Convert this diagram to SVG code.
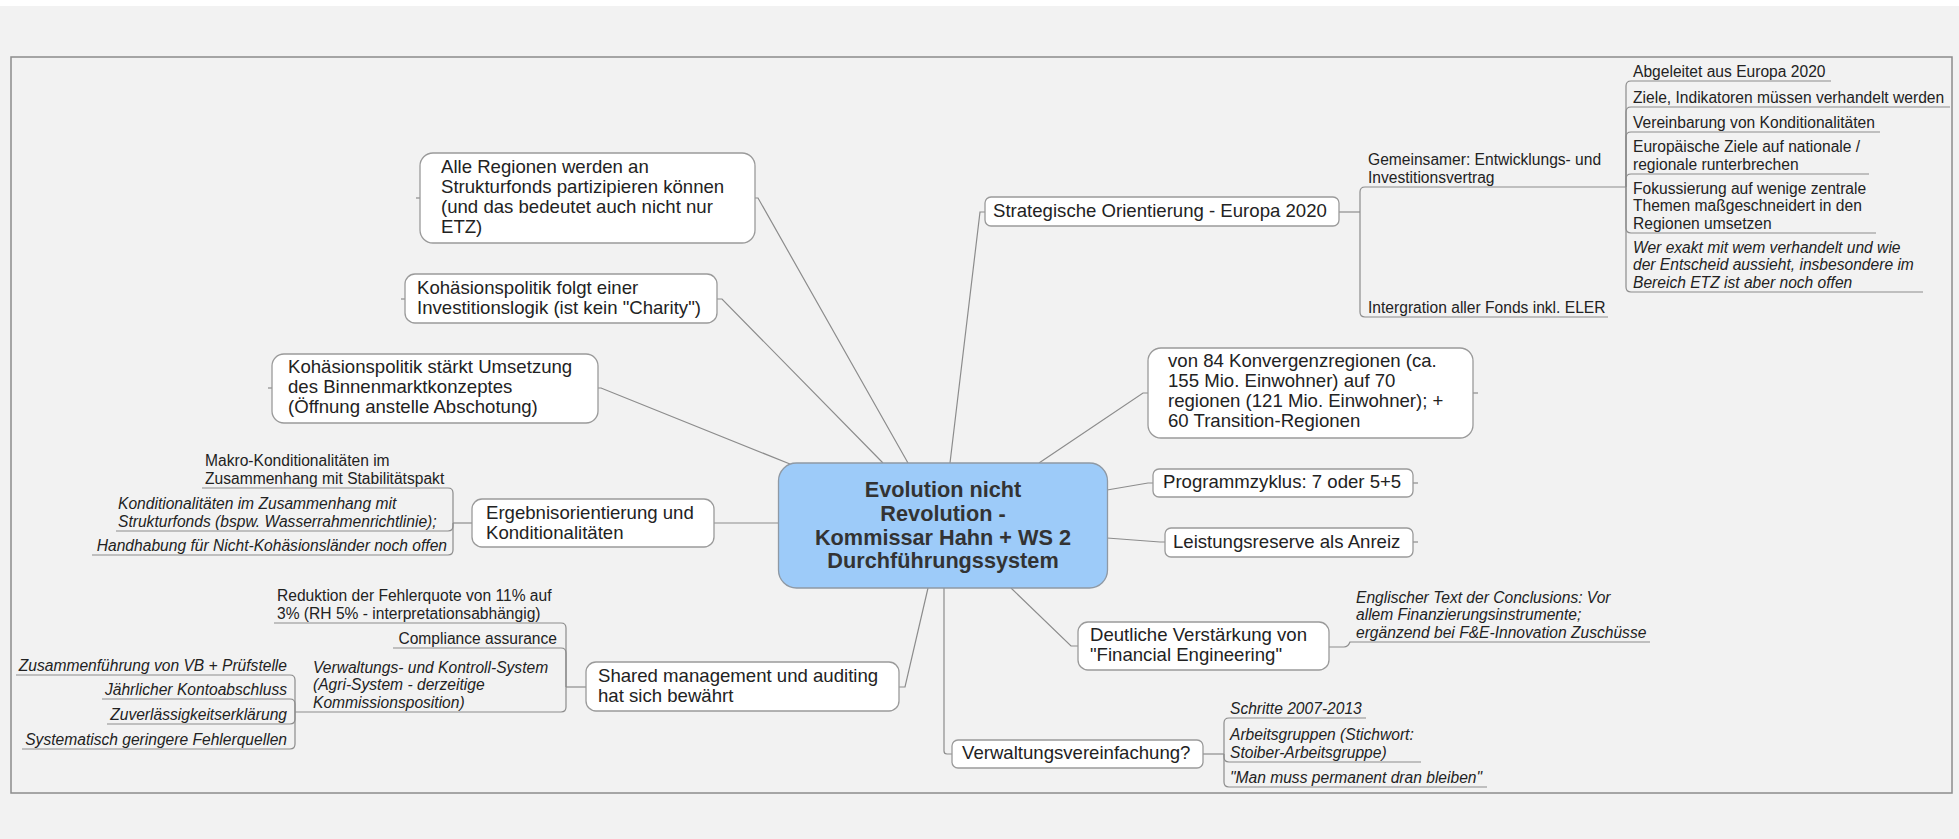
<svg xmlns="http://www.w3.org/2000/svg" width="1959" height="839" viewBox="0 0 1959 839">
<style>
.t{font-family:"Liberation Sans",Arial,sans-serif;font-size:18.6px;fill:#222}
.s{font-size:15.6px}
.i{font-style:italic}
.e{text-anchor:end}
.box{fill:#fff;stroke:#9a9a9a;stroke-width:1.3}
.cen{fill:#9dcbf9;stroke:#8f99a4;stroke-width:1.3}
.ct{font-family:"Liberation Sans",Arial,sans-serif;font-size:21.7px;font-weight:bold;fill:#333;text-anchor:middle}
#connectors path{fill:none;stroke:#8c8c8c;stroke-width:1.2}
</style>
<rect x="0" y="0" width="1959" height="839" fill="#f2f2f2"/>
<rect x="0" y="0" width="1959" height="6" fill="#fff"/>
<rect x="11" y="57" width="1941" height="736" fill="none" stroke="#8c8c8c" stroke-width="1.5"/>

<g id="connectors">
<path d="M755,198 H758 L908,463"/>
<path d="M717,299 H722 L883,463"/>
<path d="M598,388 H601 L790,464"/>
<path d="M714,523 H778"/>
<path d="M950,463 L980,212 H985"/>
<path d="M1039,463 L1143,393 H1148"/>
<path d="M1107,490 L1148,483 H1153"/>
<path d="M1107,538 L1160,542 H1165"/>
<path d="M1011,588 L1071,646 H1078"/>
<path d="M944,588 V751 Q944,754 947,754 H952"/>
<path d="M928,588 L905,687 H899"/>
<path d="M416,198 H420"/>
<path d="M401,299 H405"/>
<path d="M268,388 H272"/>
<path d="M1473,393 H1478"/>
<path d="M1413,483 H1418"/>
<path d="M1413,542 H1418"/>
<path d="M453,523 H472"/>
<path d="M202,488 H448 Q453,488 453,493 V523"/>
<path d="M116,531 H448 Q453,531 453,526 V523"/>
<path d="M92,555 H448 Q453,555 453,550 V523"/>
<path d="M566,687 H586"/>
<path d="M274,623 H561 Q566,623 566,628 V687"/>
<path d="M393,648 H561 Q566,648 566,653 V687"/>
<path d="M295,712 H561 Q566,712 566,707 V687"/>
<path d="M16,675 H290 Q295,675 295,680 V712"/>
<path d="M102,699 H290 Q295,699 295,704 V712"/>
<path d="M107,724 H290 Q295,724 295,719 V712"/>
<path d="M22,749 H290 Q295,749 295,744 V712"/>
<path d="M1339,212 H1360"/>
<path d="M1626,187 H1365 Q1360,187 1360,192 V212"/>
<path d="M1608,317 H1365 Q1360,317 1360,312 V212"/>
<path d="M1831,81 H1631 Q1626,81 1626,86 V187"/>
<path d="M1950,107 H1631 Q1626,107 1626,112 V187"/>
<path d="M1880,132 H1631 Q1626,132 1626,137 V187"/>
<path d="M1869,174 H1631 Q1626,174 1626,179 V187"/>
<path d="M1876,233 H1631 Q1626,233 1626,228 V187"/>
<path d="M1923,292 H1631 Q1626,292 1626,287 V187"/>
<path d="M1329,647 H1344 Q1348,647 1350,642 H1650"/>
<path d="M1203,754 H1224"/>
<path d="M1366,718 H1229 Q1224,718 1224,723 V754"/>
<path d="M1421,762 H1229 Q1224,762 1224,757 V754"/>
<path d="M1487,787 H1229 Q1224,787 1224,782 V754"/>
</g>

<g id="central">
<rect class="cen" x="778.5" y="463" width="329" height="125" rx="18"/>
<text class="ct"><tspan x="943" y="497">Evolution nicht</tspan><tspan x="943" y="521">Revolution -</tspan><tspan x="943" y="545">Kommissar Hahn + WS 2</tspan><tspan x="943" y="568">Durchführungssystem</tspan></text>
</g>

<g id="n-alle">
<rect class="box" x="420" y="153" width="335" height="90" rx="13"/>
<text class="t"><tspan x="441" y="173">Alle Regionen werden an</tspan><tspan x="441" y="193">Strukturfonds partizipieren können</tspan><tspan x="441" y="213">(und das bedeutet auch nicht nur</tspan><tspan x="441" y="233">ETZ)</tspan></text>
</g>

<g id="n-invest">
<rect class="box" x="405" y="274" width="312" height="49" rx="10"/>
<text class="t"><tspan x="417" y="294">Kohäsionspolitik folgt einer</tspan><tspan x="417" y="314">Investitionslogik (ist kein "Charity")</tspan></text>
</g>

<g id="n-binnen">
<rect class="box" x="272" y="354" width="326" height="69" rx="12"/>
<text class="t"><tspan x="288" y="373">Kohäsionspolitik stärkt Umsetzung</tspan><tspan x="288" y="393">des Binnenmarktkonzeptes</tspan><tspan x="288" y="413">(Öffnung anstelle Abschotung)</tspan></text>
</g>

<g id="n-ergebnis">
<rect class="box" x="472" y="499" width="242" height="48" rx="10"/>
<text class="t"><tspan x="486" y="519">Ergebnisorientierung und</tspan><tspan x="486" y="539">Konditionalitäten</tspan></text>
</g>
<g id="n-makro">
<text class="t s"><tspan x="205" y="466">Makro-Konditionalitäten im</tspan><tspan x="205" y="483.5">Zusammenhang mit Stabilitätspakt</tspan></text>
</g>
<g id="n-kond">
<text class="t s i"><tspan x="118" y="509">Konditionalitäten im Zusammenhang mit</tspan><tspan x="118" y="526.5">Strukturfonds (bspw. Wasserrahmenrichtlinie);</tspan></text>
</g>
<g id="n-handhabung">
<text class="t s i e" x="447" y="550.5">Handhabung für Nicht-Kohäsionsländer noch offen</text>
</g>

<g id="n-shared">
<rect class="box" x="586" y="662" width="313" height="49" rx="10"/>
<text class="t"><tspan x="598" y="682">Shared management und auditing</tspan><tspan x="598" y="702">hat sich bewährt</tspan></text>
</g>
<g id="n-reduktion">
<text class="t s"><tspan x="277" y="601">Reduktion der Fehlerquote von 11% auf</tspan><tspan x="277" y="618.5">3% (RH 5% - interpretationsabhängig)</tspan></text>
</g>
<g id="n-compliance">
<text class="t s e" x="557" y="643.5">Compliance assurance</text>
</g>
<g id="n-vks">
<text class="t s i"><tspan x="313" y="672.5">Verwaltungs- und Kontroll-System</tspan><tspan x="313" y="690">(Agri-System - derzeitige</tspan><tspan x="313" y="707.5">Kommissionsposition)</tspan></text>
</g>
<g id="n-vks-items">
<text class="t s i e" x="287" y="670.5">Zusammenführung von VB + Prüfstelle</text>
<text class="t s i e" x="287" y="694.5">Jährlicher Kontoabschluss</text>
<text class="t s i e" x="287" y="719.5">Zuverlässigkeitserklärung</text>
<text class="t s i e" x="287" y="744.5">Systematisch geringere Fehlerquellen</text>
</g>

<g id="n-strategisch">
<rect class="box" x="985" y="197" width="354" height="29" rx="6"/>
<text class="t" x="993" y="217">Strategische Orientierung - Europa 2020</text>
</g>
<g id="n-gemeinsam">
<text class="t s"><tspan x="1368" y="165">Gemeinsamer: Entwicklungs- und</tspan><tspan x="1368" y="182.5">Investitionsvertrag</tspan></text>
</g>
<g id="n-intergration">
<text class="t s" x="1368" y="312.5">Intergration aller Fonds inkl. ELER</text>
</g>
<g id="n-gem-items">
<text class="t s" x="1633" y="76.5">Abgeleitet aus Europa 2020</text>
<text class="t s" x="1633" y="102.5">Ziele, Indikatoren müssen verhandelt werden</text>
<text class="t s" x="1633" y="127.5">Vereinbarung von Konditionalitäten</text>
<text class="t s"><tspan x="1633" y="152">Europäische Ziele auf nationale /</tspan><tspan x="1633" y="169.5">regionale runterbrechen</tspan></text>
<text class="t s"><tspan x="1633" y="193.5">Fokussierung auf wenige zentrale</tspan><tspan x="1633" y="211">Themen maßgeschneidert in den</tspan><tspan x="1633" y="228.5">Regionen umsetzen</tspan></text>
<text class="t s i"><tspan x="1633" y="252.5">Wer exakt mit wem verhandelt und wie</tspan><tspan x="1633" y="270">der Entscheid aussieht, insbesondere im</tspan><tspan x="1633" y="287.5">Bereich ETZ ist aber noch offen</tspan></text>
</g>

<g id="n-konvergenz">
<rect class="box" x="1148" y="348" width="325" height="90" rx="13"/>
<text class="t"><tspan x="1168" y="367">von 84 Konvergenzregionen (ca.</tspan><tspan x="1168" y="387">155 Mio. Einwohner) auf 70</tspan><tspan x="1168" y="407">regionen (121 Mio. Einwohner); +</tspan><tspan x="1168" y="427">60 Transition-Regionen</tspan></text>
</g>
<g id="n-programm">
<rect class="box" x="1153" y="469" width="260" height="28" rx="6"/>
<text class="t" x="1163" y="488">Programmzyklus: 7 oder 5+5</text>
</g>
<g id="n-leistung">
<rect class="box" x="1165" y="528" width="248" height="29" rx="6"/>
<text class="t" x="1173" y="548">Leistungsreserve als Anreiz</text>
</g>
<g id="n-financial">
<rect class="box" x="1078" y="622" width="251" height="48" rx="10"/>
<text class="t"><tspan x="1090" y="641">Deutliche Verstärkung von</tspan><tspan x="1090" y="661">"Financial Engineering"</tspan></text>
</g>
<g id="n-englisch">
<text class="t s i"><tspan x="1356" y="602.5">Englischer Text der Conclusions: Vor</tspan><tspan x="1356" y="620">allem Finanzierungsinstrumente;</tspan><tspan x="1356" y="637.5">ergänzend bei F&amp;E-Innovation Zuschüsse</tspan></text>
</g>
<g id="n-vereinfachung">
<rect class="box" x="952" y="740" width="251" height="28" rx="6"/>
<text class="t" x="962" y="759">Verwaltungsvereinfachung?</text>
</g>
<g id="n-vereinf-items">
<text class="t s i" x="1230" y="713.5">Schritte 2007-2013</text>
<text class="t s i"><tspan x="1230" y="740">Arbeitsgruppen (Stichwort:</tspan><tspan x="1230" y="757.5">Stoiber-Arbeitsgruppe)</tspan></text>
<text class="t s i" x="1230" y="782.5">"Man muss permanent dran bleiben"</text>
</g>
</svg>
